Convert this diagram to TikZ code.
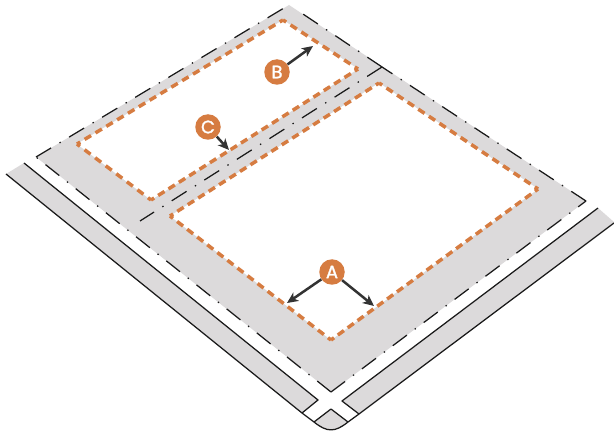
\documentclass[tikz,border=0pt]{standalone}
\usepackage{fontspec}
\newfontfamily\lab[FakeBold=1.6]{Poppins}
\usetikzlibrary{arrows.meta}
\definecolor{lotgray}{HTML}{DCDADB}
\definecolor{orng}{HTML}{D67C41}
\definecolor{arrowdark}{HTML}{333333}
\definecolor{linedark}{HTML}{1A1A1A}
\tikzset{
  solidline/.style={draw=linedark,line width=1.25pt,line join=round},
  lotline/.style={draw=linedark,line width=1.25pt,dash pattern=on 17.6pt off 9.8pt on 1.4pt off 9.8pt},
  orangeline/.style={draw=orng,line width=3.5pt},
  marker/.style={circle,fill=orng,inner sep=0pt,minimum size=25.5pt,text=white,font=\lab\fontsize{18}{18}\selectfont},
  pointer/.style={draw=arrowdark,line width=2.5pt,-{Stealth[length=11pt,width=10pt,inset=3pt]},shorten >=0pt}
}
\newcommand{\oedge}[3]{%
  \pgfmathsetmacro{\offlen}{#3-7.5}%
  \draw[orangeline,dash pattern=on 7.5pt off \offlen pt,dash phase=3.75pt] (#1) -- (#2);}
\begin{document}
\begin{tikzpicture}[x=1pt,y=-1pt]
\useasboundingbox (0,0) rectangle (614,433);
% lot corners
\coordinate (lotL) at (36,157);
\coordinate (lotT) at (289,5);
\coordinate (lotR) at (586,201);
\coordinate (lotB) at (331,392);
\coordinate (lotEndTL) at (283,8.6);
\coordinate (lotEndTR) at (300,12);
\coordinate (divR) at (382,67);
\coordinate (divL) at (140,221);
% parcels
\coordinate (aT) at (379,83);
\coordinate (aR) at (538,189);
\coordinate (aB) at (331,340);
\coordinate (aL) at (170,216);
\coordinate (bT) at (283,20);
\coordinate (bR) at (358,69);
\coordinate (bB) at (151,200);
\coordinate (bL) at (77,144);
% roads
\coordinate (lrA) at (24,163);
\coordinate (lrB) at (318,400);
\coordinate (lrC) at (302,413);
\coordinate (lrD) at (6,174);
\coordinate (rrA) at (342,401);
\coordinate (rrB) at (598,208);
\coordinate (rrC) at (614,222);
\coordinate (rrD) at (359,414);
\coordinate (rrE) at (614,223);
\coordinate (cA) at (314,422);
\coordinate (cT) at (331,409);
\coordinate (cB) at (348,422);
% gray fills
\fill[lotgray] (lotL) -- (lotT) -- (lotR) -- (lotB) -- cycle;
\fill[white] (aT) -- (aR) -- (aB) -- (aL) -- cycle;
\fill[white] (bT) -- (bR) -- (bB) -- (bL) -- cycle;
\fill[lotgray] (lrA) -- (lrB) -- (lrC) -- (lrD) -- cycle;
\fill[lotgray] (rrA) -- (rrB) -- (rrC) -- (rrE) -- (rrD) -- cycle;
\fill[lotgray] (cA) -- (cT) -- (cB) .. controls (335,432.5) and (327,432.5) .. (cA) -- cycle;
% road outlines
\draw[solidline] (lrA) -- (lrB) -- (lrC);
\draw[solidline] (lrD) -- (lrC) -- (cA) .. controls (327,432.5) and (335,432.5) .. (cB) -- (rrD) -- (rrE);
\draw[solidline] (rrB) -- (rrA) -- (rrD);
\draw[solidline] (cA) -- (cT) -- (cB);
% lot lines
\draw[lotline] (lotL) -- (lotEndTL);
\draw[lotline] (lotR) -- (divR);
\draw[lotline] (divR) -- (lotEndTR);
\draw[lotline] (divR) -- (divL);
\draw[lotline] (lotB) -- (lotL);
\draw[lotline] (lotB) -- (lotR);
% parcel outlines
\oedge{aT}{aR}{12.74}
\oedge{aR}{aB}{12.2}
\oedge{aB}{aL}{12.7}
\oedge{aL}{aT}{12.39}
\oedge{bT}{bR}{12.8}
\oedge{bR}{bB}{12.25}
\oedge{bB}{bL}{13.26}
\oedge{bL}{bT}{12.65}
% markers
\node[marker] (mA) at (332,272) {A};
\node[marker] (mB) at (277,72) {B};
\node[marker] (mC) at (208,127) {C};
\coordinate (tA1) at (287,303);
\coordinate (tA2) at (374,306);
\coordinate (tB) at (313,46);
\coordinate (tC) at (229,150);
\draw[pointer] (mA) -- (tA1);
\draw[pointer] (mA) -- (tA2);
\draw[pointer] (mB) -- (tB);
\draw[pointer] (mC) -- (tC);
\end{tikzpicture}
\end{document}
